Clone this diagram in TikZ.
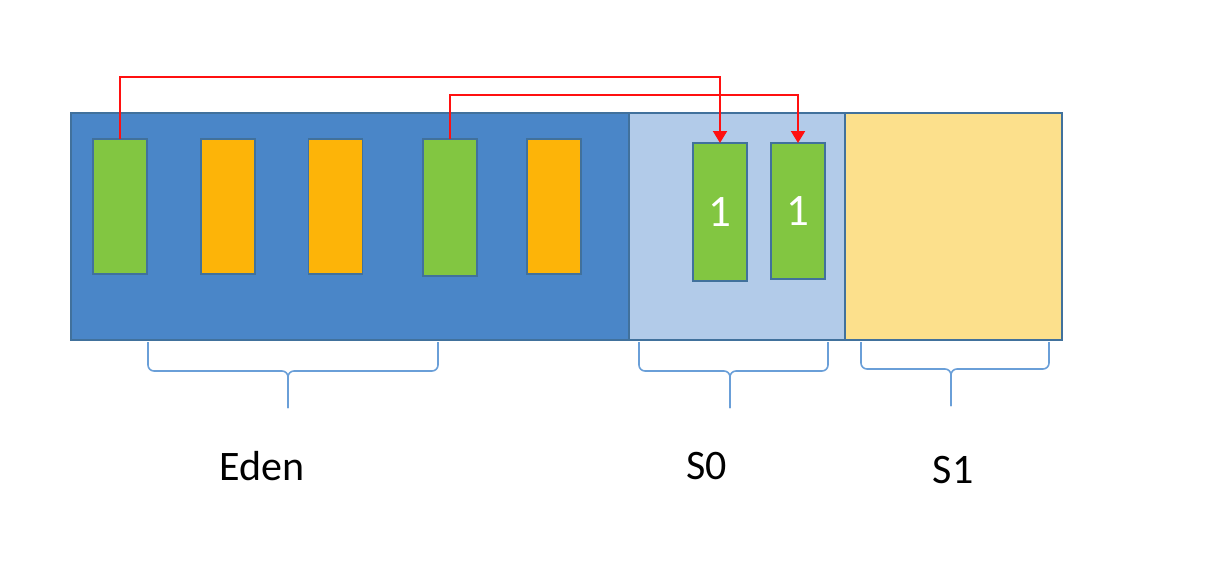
\documentclass[tikz,border=0pt]{standalone}
\usepackage{fontspec}
\setmainfont{Carlito}
\usetikzlibrary{arrows.meta}
\definecolor{edenc}{HTML}{4A86C8}
\definecolor{szeroc}{HTML}{B2CBE9}
\definecolor{sonec}{HTML}{FCE08C}
\definecolor{greenc}{HTML}{82C641}
\definecolor{orangec}{HTML}{FDB408}
\definecolor{edgec}{HTML}{41719C}
\definecolor{bracec}{HTML}{6A9FD8}
\definecolor{redc}{HTML}{FF1010}
\tikzset{
  region/.style={draw=edgec, line width=1.5pt, inner sep=0pt, outer sep=0pt, minimum height=227pt},
  objbox/.style={draw=edgec, line width=1.8pt, inner sep=0pt, outer sep=0pt, minimum width=54pt},
  gbox/.style={objbox, fill=greenc, text=white, font=\fontsize{45}{45}\selectfont},
  obox/.style={objbox, fill=orangec},
  redarrow/.style={draw=redc, line width=2pt, -{Triangle[width=14pt,length=12pt]}},
  bracestyle/.style={draw=bracec, line width=1.6pt, rounded corners=6pt},
  lbl/.style={font=\fontsize{42}{42}\selectfont, text=black, inner sep=0pt}
}
\begin{document}
\begin{tikzpicture}[x=1pt,y=-1pt]
\useasboundingbox (0,0) rectangle (1206,586);
% regions
\node[region, fill=edenc, minimum width=558pt] (eden) at (350,226.5) {};
\node[region, fill=szeroc, minimum width=216pt] (szero) at (737,226.5) {};
\node[region, fill=sonec, minimum width=217pt] (sone) at (953.5,226.5) {};
% objects in Eden
\node[gbox, minimum height=135pt] (e1) at (120,206.5) {};
\node[obox, minimum height=135pt] (e2) at (228,206.5) {};
\node[obox, minimum height=135pt] (e3) at (335.5,206.5) {};
\node[gbox, minimum height=137pt] (e4) at (450,207.5) {};
\node[obox, minimum height=135pt] (e5) at (554,206.5) {};
% objects in S0
\node[gbox, minimum height=138pt] (s1) at (720,212) {1};
\node[gbox, minimum height=136pt] (s2) at (798,211) {1};
% red arrows
\coordinate (top1) at (0,77);
\coordinate (top2) at (0,95);
\draw[redarrow] (e1.north) -- (e1.north |- top1) -| (s1.north);
\draw[redarrow] (e4.north) -- (e4.north |- top2) -| (s2.north);
% braces
\coordinate (bE) at (288,408);
\coordinate (bS) at (730,408);
\coordinate (bT) at (951,406);
\draw[bracestyle] (148,342) -- (148,371) -- (288,371) -- (bE);
\draw[bracestyle] (438,342) -- (438,371) -- (288,371) -- (bE);
\draw[bracestyle] (639,342) -- (639,371) -- (730,371) -- (bS);
\draw[bracestyle] (828,342) -- (828,371) -- (730,371) -- (bS);
\draw[bracestyle] (861,342) -- (861,369) -- (951,369) -- (bT);
\draw[bracestyle] (1049,342) -- (1049,369) -- (951,369) -- (bT);
% labels
\node[lbl] (leden) at (262,466) {Eden};
\node[lbl] (lszero) at (707,466) {S0};
\node[lbl] (lsone) at (953,470) {S1};
\end{tikzpicture}
\end{document}
